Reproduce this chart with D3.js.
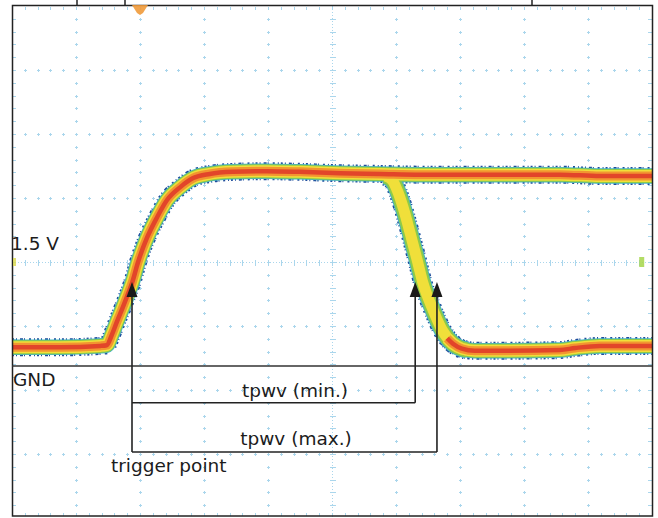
<!DOCTYPE html>
<html><head><meta charset="utf-8">
<script src="https://cdn.jsdelivr.net/npm/d3@7"></script>
<style>html,body{margin:0;padding:0;background:#fff;}svg{display:block}</style>
</head><body>
<svg id="c" width="658" height="518"></svg>
<script>
// time in divisions, voltage in volts
const tRise = [0,0.75,1.38,1.48,1.56,1.64,1.72,1.80,1.88,1.97,2.11,2.27,2.42,2.63,2.83,3.09,3.45,3.98,4.5,5.13,5.75,6.38,7.63,8.56,9.19,10];
const vRise = [0.27,0.27,0.29,0.30,0.45,0.64,0.82,1.01,1.21,1.50,1.85,2.15,2.39,2.58,2.71,2.77,2.80,2.81,2.80,2.78,2.77,2.76,2.76,2.76,2.74,2.74];
const tFall = [5.83,5.94,6.03,6.11,6.22,6.33,6.42,6.56,6.72,6.89,7.11];
const vFall = [2.74,2.68,2.51,2.29,1.92,1.53,1.20,0.85,0.52,0.32,0.23];
const tLow = [6.80,6.89,7.03,7.23,7.63,8.56,8.80,9.19,10];
const vLow = [0.40,0.32,0.25,0.22,0.22,0.23,0.26,0.29,0.29];

const tTrigger = 1.875, tMin = 6.30, tMax = 6.64;
const vArrowTip = 1.21, vMinBar = -0.53, vMaxBar = -1.24;
const levelLabels = ["1.5 V", "GND"];
const levelValues = [1.5, 0];
const bracketLabels = ["tpwv (min.)", "tpwv (max.)"];
const triggerLabel = "trigger point";

const x = d3.scaleLinear().domain([0, 10]).range([12, 652]);
const gy = d3.scaleLinear().domain([0, 8]).range([6, 518]);
const y = d3.scaleLinear().domain([0, 1.5]).range([366, 262]);

const svg = d3.select('#c');
const gridC = '#9ccfe9';
const grid = svg.append('g').attr('stroke', gridC).attr('stroke-width', 1).attr('shape-rendering','crispEdges').attr('opacity', .85);

function plus(px, py, s) {
  grid.append('line').attr('x1', px - s).attr('x2', px + s + 1).attr('y1', py + .5).attr('y2', py + .5);
  grid.append('line').attr('x1', px + .5).attr('x2', px + .5).attr('y1', py - s).attr('y2', py + s + 1);
}
for (let i = 1; i < 10; i++) {
  if (i === 5) continue;
  for (let j = 1; j < 40; j++) plus(Math.round(x(i)), Math.round(gy(j / 5)), 1);
}
for (let j = 1; j < 8; j++) {
  if (j === 4) continue;
  for (let k = 1; k < 50; k++) if (k % 5) plus(Math.round(x(k / 5)), Math.round(gy(j)), 1);
}
for (let j = 1; j < 40; j++) {
  const py = Math.round(gy(j / 5)) + .5;
  grid.append('line').attr('x1', x(0)).attr('x2', x(0) + 4).attr('y1', py).attr('y2', py);
  grid.append('line').attr('x1', x(10) - 4).attr('x2', x(10)).attr('y1', py).attr('y2', py);
}
for (let k = 1; k < 50; k++) {
  const px = Math.round(x(k / 5)) + .5;
  grid.append('line').attr('x1', px).attr('x2', px).attr('y1', gy(0) + 1).attr('y2', gy(0) + 4);
  grid.append('line').attr('x1', px).attr('x2', px).attr('y1', gy(8) - 5).attr('y2', gy(8) - 2);
}
const cx = Math.round(x(5)) + .5, cy = Math.round(gy(4)) + .5;
grid.append('line').attr('x1', cx).attr('x2', cx).attr('y1', gy(0)).attr('y2', gy(8)).attr('stroke-dasharray', '1 2');
grid.append('line').attr('x1', x(0)).attr('x2', x(10)).attr('y1', cy).attr('y2', cy).attr('stroke-dasharray', '1 2');
for (let j = 1; j < 40; j++) {
  const py = Math.round(gy(j / 5)) + .5;
  grid.append('line').attr('x1', cx - 3).attr('x2', cx + 3).attr('y1', py).attr('y2', py);
}
for (let k = 1; k < 50; k++) {
  const px = Math.round(x(k / 5)) + .5;
  grid.append('line').attr('x1', px).attr('x2', px).attr('y1', cy - 3).attr('y2', cy + 3);
}

// traces
const line = d3.line().x(d => x(d[0])).y(d => y(d[1])).curve(d3.curveMonotoneX);
const rise = d3.zip(tRise, vRise), fall = d3.zip(tFall, vFall), low = d3.zip(tLow, vLow);
const layers = [
  { c: '#1e4c9c', n: 18, f: 19.5, dash: '2 2 1 3 3 1 1 4 2 3 1 2' },
  { c: '#45b5c2', n: 15.5, f: 17 },
  { c: '#8fca48', n: 14, f: 15 },
  { c: '#f0df3a', n: 12, f: 11 },
  { c: '#f29530', n: 9, f: 0 },
  { c: '#e2452a', n: 4.5, f: 0 }
];
const tg = svg.append('g').attr('fill', 'none');
layers.forEach(L => {
  [[rise, L.n], [fall, L.f], [low, L.n]].forEach(([d, w]) => {
    if (!w) return;
    tg.append('path').attr('d', line(d)).attr('stroke', L.c).attr('stroke-width', w)
      .attr('stroke-linecap', 'butt').attr('stroke-linejoin', 'round')
      .attr('stroke-dasharray', L.dash || null);
  });
});

// frame
svg.append('rect').attr('x', x(0) + .5).attr('y', gy(0) - .5).attr('width', x(10) - x(0)).attr('height', gy(8) - gy(0) - 1.5)
  .attr('fill', 'none').attr('stroke', '#222').attr('stroke-width', 1.5);
[77, 125, 532].forEach(px => svg.append('line').attr('x1', px).attr('x2', px).attr('y1', 0).attr('y2', 5).attr('stroke', '#222').attr('stroke-width', 1.5));
svg.append('path').attr('d', `M${x(2) - 8},5 L${x(2) + 8},5 L${x(2) + 3},13 L${x(2)},15 L${x(2) - 3},13 Z`).attr('fill', '#f09a3a').attr('opacity', .9);
svg.append('rect').attr('x', x(0) + 1).attr('y', y(1.5) - 4).attr('width', 3).attr('height', 8).attr('fill', '#d9d84a').attr('opacity', .8);
svg.append('rect').attr('x', x(9.8)).attr('y', y(1.5) - 5).attr('width', 5).attr('height', 10).attr('fill', '#a6d64a').attr('opacity', .85);

svg.append('line').attr('x1', x(0)).attr('x2', x(10)).attr('y1', y(0)).attr('y2', y(0)).attr('stroke', '#333').attr('stroke-width', 1.5);

const ann = svg.append('g').attr('stroke', '#222').attr('stroke-width', 1.6).attr('fill', 'none');
const tipY = y(vArrowTip), baseY = tipY + 15;
function arrow(t, bottomV) {
  const px = x(t);
  ann.append('line').attr('x1', px).attr('x2', px).attr('y1', baseY - 1).attr('y2', y(bottomV));
  svg.append('path').attr('d', `M${px},${tipY} L${px - 5.5},${baseY} L${px + 5.5},${baseY} Z`).attr('fill', '#1a1a1a');
}
arrow(tTrigger, vMaxBar);
arrow(tMin, vMinBar);
arrow(tMax, vMaxBar);
ann.append('line').attr('x1', x(tTrigger)).attr('x2', x(tMin)).attr('y1', y(vMinBar)).attr('y2', y(vMinBar));
ann.append('line').attr('x1', x(tTrigger)).attr('x2', x(tMax)).attr('y1', y(vMaxBar)).attr('y2', y(vMaxBar));

const txt = svg.append('g').attr('font-family', 'DejaVu Sans, Verdana, sans-serif').attr('font-size', 18.5).attr('fill', '#1c1c1c');
txt.append('text').attr('x', 11).attr('y', y(levelValues[0]) - 12).text(levelLabels[0]);
txt.append('text').attr('x', 13).attr('y', y(levelValues[1]) + 20).text(levelLabels[1]);
txt.append('text').attr('x', 295).attr('y', y(vMinBar) - 6).attr('text-anchor', 'middle').text(bracketLabels[0]);
txt.append('text').attr('x', 296).attr('y', y(vMaxBar) - 7).attr('text-anchor', 'middle').text(bracketLabels[1]);
txt.append('text').attr('x', 111).attr('y', y(vMaxBar) + 20).text(triggerLabel);
</script>
</body></html>
